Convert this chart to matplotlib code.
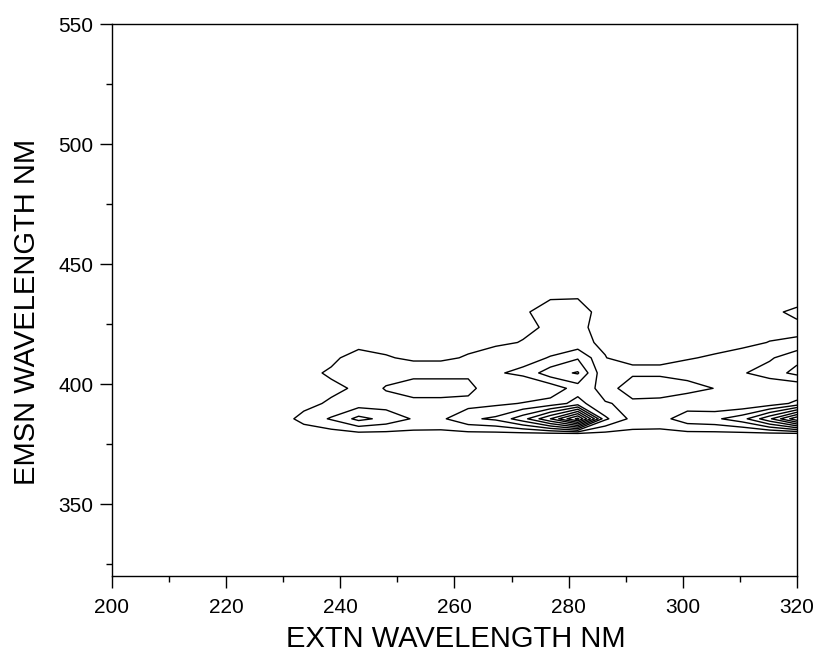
import numpy as np
import matplotlib
matplotlib.use("Agg")
import matplotlib.pyplot as plt
from matplotlib.ticker import MultipleLocator

plt.rcParams['font.family'] = ['Liberation Sans', 'DejaVu Sans']

# excitation (columns) and emission (rows) wavelengths of the scan, nm
ex_nm = [224.0, 228.8, 233.6, 238.4, 243.2, 248.0, 252.8, 257.6, 262.4, 267.2, 272.0,
         276.8, 281.6, 286.4, 291.2, 296.0, 300.8, 305.6, 310.4, 315.2, 320.0]
em_nm = [372.8, 379.2, 385.5, 391.9, 398.2, 404.6, 410.9, 417.3, 423.6, 430.0, 436.3, 442.7]

# fluorescence intensity, one list per emission row
em_373 = [0] * 21
em_379 = [0, 0.1, 0.3, 0.5, 0.7, 0.7, 0.7, 0.7, 0.7, 0.7, 0.7,
          0.7, 0.7, 0.7, 0.7, 0.7, 0.7, 0.7, 0.7, 0.7, 0.7]
em_386 = [0, 0.3, 1.4, 2.1, 3.3, 2.7, 1.9, 1.8, 2.8, 3.2, 4.6,
          7.0, 10.3, 3.2, 1.7, 1.6, 2.6, 2.8, 3.6, 5.8, 8.8]
em_392 = [0, 0, 0.6, 1.2, 1.5, 1.5, 1.75, 1.75, 1.6, 1.8, 2.05,
          2.4, 3.4, 2.05, 1.85, 1.8, 1.4, 1.1, 1.1, 1.4, 2.27]
em_398 = [0, 0, 0.5, 0.7, 1.2, 2.1, 2.4, 2.4, 2.4, 1.05, 1.2,
          1.3, 2.5, 1.7, 2.35, 2.35, 2.3, 1.98, 1.5, 1.1, 1.05]
em_405 = [0, 0.1, 0.6, 1.2, 1.6, 1.5, 1.75, 1.75, 1.75, 1.9, 2.2,
          3.6, 4.1, 1.14, 1.9, 1.9, 1.7, 1.7, 1.9, 2.5, 3.3]
em_411 = [0, 0, 0.2, 0.7, 1.6, 1.1, 0.8, 0.8, 1.1, 1.6, 1.7,
          2.05, 2.9, 1.05, 0.2, 0.2, 0.9, 1.17, 1.68, 1.85, 2.72]
em_417 = [0, 0, 0.1, 0.3, 0.5, 0.6, 0.5, 0.5, 0.7, 0.8, 1.05,
          1.6, 1.3, 0.79, 0.1, 0.1, 0.3, 0.5, 0.6, 1.05, 1.2]
em_424 = [0, 0, 0, 0.1, 0.2, 0.3, 0.3, 0.3, 0.4, 0.5, 0.8,
          1.14, 1.4, 0.33, 0.1, 0.1, 0.1, 0.2, 0.3, 0.5, 0.67]
em_430 = [0, 0, 0, 0, 0.1, 0.1, 0.1, 0.2, 0.2, 0.3, 0.85,
          1.45, 1.35, 0.65, 0.1, 0.1, 0.1, 0.1, 0.2, 0.7, 1.3]
em_436 = [0, 0, 0, 0, 0, 0, 0, 0, 0.1, 0.1, 0.4,
          0.9, 0.95, 0.4, 0.1, 0.1, 0.1, 0.1, 0.1, 0.3, 0.35]
em_443 = [0] * 21

levels = [1, 2, 3, 4, 5, 6, 7, 8, 9, 10]

Z = np.array([em_373, em_379, em_386, em_392, em_398, em_405,
              em_411, em_417, em_424, em_430, em_436, em_443])

fig = plt.figure(figsize=(8.19, 6.62), dpi=100)
ax = fig.add_axes([112 / 819, 86 / 662, 685 / 819, 552 / 662])

ax.contour(ex_nm, em_nm, Z, levels=levels, colors='k', linewidths=1.0)

ax.set_xlim(200, 320)
ax.set_ylim(320, 550)
ax.xaxis.set_major_locator(MultipleLocator(20))
ax.xaxis.set_minor_locator(MultipleLocator(10))
ax.yaxis.set_major_locator(MultipleLocator(50))
ax.yaxis.set_minor_locator(MultipleLocator(25))

ax.tick_params(which='both', direction='out', width=1.0, top=False, right=False)
ax.tick_params(which='major', length=8.6, labelsize=15)
ax.tick_params(which='minor', length=4.3)
ax.tick_params(axis='x', which='major', pad=7.5)
ax.tick_params(axis='y', which='major', pad=4.8)
for s in ax.spines.values():
    s.set_linewidth(1.0)

ax.set_xlabel('EXTN WAVELENGTH NM', fontsize=21)
ax.set_ylabel('EMSN WAVELENGTH NM', fontsize=21)
ax.xaxis.set_label_coords(0.502, -0.088)
ax.yaxis.set_label_coords(-0.1036, 0.478)

fig.savefig('out.png', dpi=100)
